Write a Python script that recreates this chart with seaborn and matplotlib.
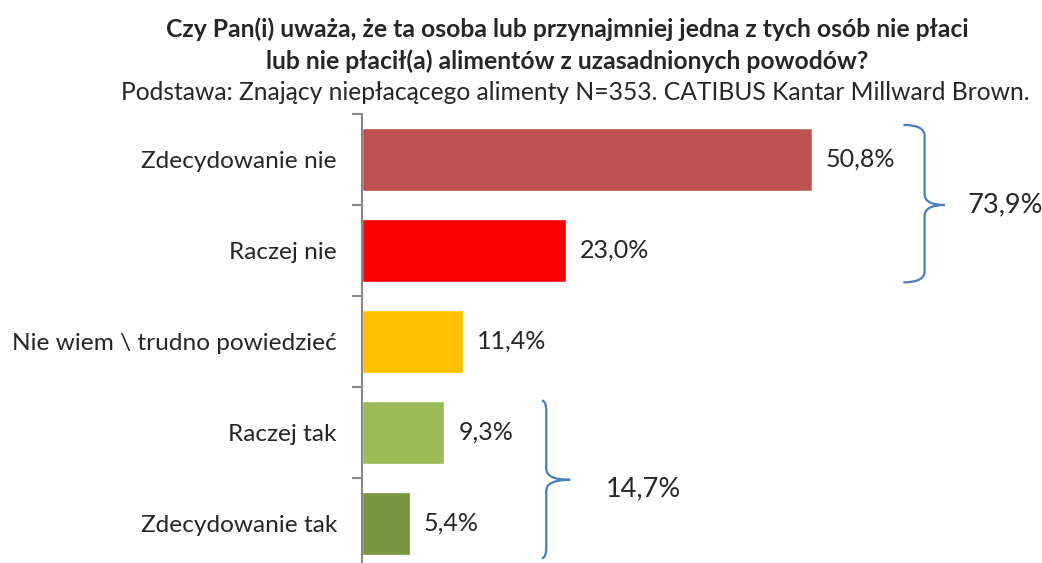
import numpy as np
import pandas as pd
import matplotlib
matplotlib.use("Agg")
import matplotlib.pyplot as plt
from matplotlib.path import Path
from matplotlib.patches import PathPatch
import seaborn as sns

# data
categories = ["Zdecydowanie nie", "Raczej nie", "Nie wiem \\ trudno powiedzieć",
              "Raczej tak", "Zdecydowanie tak"]
values = [50.8, 23.0, 11.4, 9.3, 5.4]
colors = ["#C0504D", "#FF0000", "#FFC000", "#9BBB59", "#77933C"]
group_no = 73.9
group_yes = 14.7

title = ("Czy Pan(i) uważa, że ta osoba lub przynajmniej jedna z tych osób nie płaci\n"
         "lub nie płacił(a) alimentów z uzasadnionych powodów?")
subtitle = "Podstawa: Znający niepłacącego alimenty N=353. CATIBUS Kantar Millward Brown."

sns.set_style("white")
plt.rcParams['font.family'] = ['Lato', 'DejaVu Sans']

df = pd.DataFrame({"cat": categories, "val": values})

W, H = 1042, 563
fig = plt.figure(figsize=(W / 100, H / 100), dpi=100)
ax = fig.add_axes([362 / W, -6 / H, 531.6 / W, 455 / H])

sns.barplot(data=df, x="val", y="cat", hue="cat", palette=colors, legend=False,
            orient="h", width=0.7, saturation=1, ax=ax)

ax.set_xlim(0, 60)
ax.set_ylim(4.5, -0.5)
ax.set_xlabel("")
ax.set_ylabel("")
ax.set_xticks([])
for s in ["top", "right", "bottom"]:
    ax.spines[s].set_visible(False)
ax.spines["left"].set_color("#898989")
ax.spines["left"].set_linewidth(1.5)
ax.set_yticks(np.arange(len(categories)))
ax.set_yticklabels(categories, fontsize=17.6)
ax.tick_params(axis="y", which="major", length=0, pad=18)
ax.set_yticks(np.arange(-0.5, len(categories), 1.0), minor=True)
ax.tick_params(axis="y", which="minor", left=True, direction="out", length=7, width=1.5,
               color="#898989")

for cont in ax.containers:
    ax.bar_label(cont, labels=[f"{v:.1f}%".replace(".", ",") for v in cont.datavalues],
                 padding=10, fontsize=18)


def brace(x0, xv, xt, y0, y1, ym):
    r = 0.12
    verts = [(x0, y0), (xv, y0), (xv, y0 + r),
             (xv, ym - r), (xv, ym), (xt, ym),
             (xv, ym), (xv, ym + r),
             (xv, y1 - r), (xv, y1), (x0, y1)]
    codes = [Path.MOVETO, Path.CURVE3, Path.CURVE3,
             Path.LINETO, Path.CURVE3, Path.CURVE3,
             Path.CURVE3, Path.CURVE3,
             Path.LINETO, Path.CURVE3, Path.CURVE3]
    p = PathPatch(Path(verts, codes), fill=False, edgecolor="#4A7EBB", lw=1.6, clip_on=False)
    ax.add_patch(p)


brace(61.1, 63.5, 65.8, -0.38, 1.35, 0.5)
ax.text(68.3, 0.5, f"{group_no:.1f}%".replace(".", ","), fontsize=19.5, va="center", ha="left",
        clip_on=False)
brace(20.3, 20.8, 23.5, 2.65, 4.38, 3.52)
ax.text(27.5, 3.62, f"{group_yes:.1f}%".replace(".", ","), fontsize=19.5, va="center", ha="left",
        clip_on=False)

fig.text(567 / W, 1 - 45 / H, title, ha="center", va="center", fontsize=17.8,
         fontweight="bold", linespacing=1.45)
fig.text(575 / W, 1 - 93 / H, subtitle, ha="center", va="center", fontsize=17.7)

fig.savefig("out.png", dpi=100)
